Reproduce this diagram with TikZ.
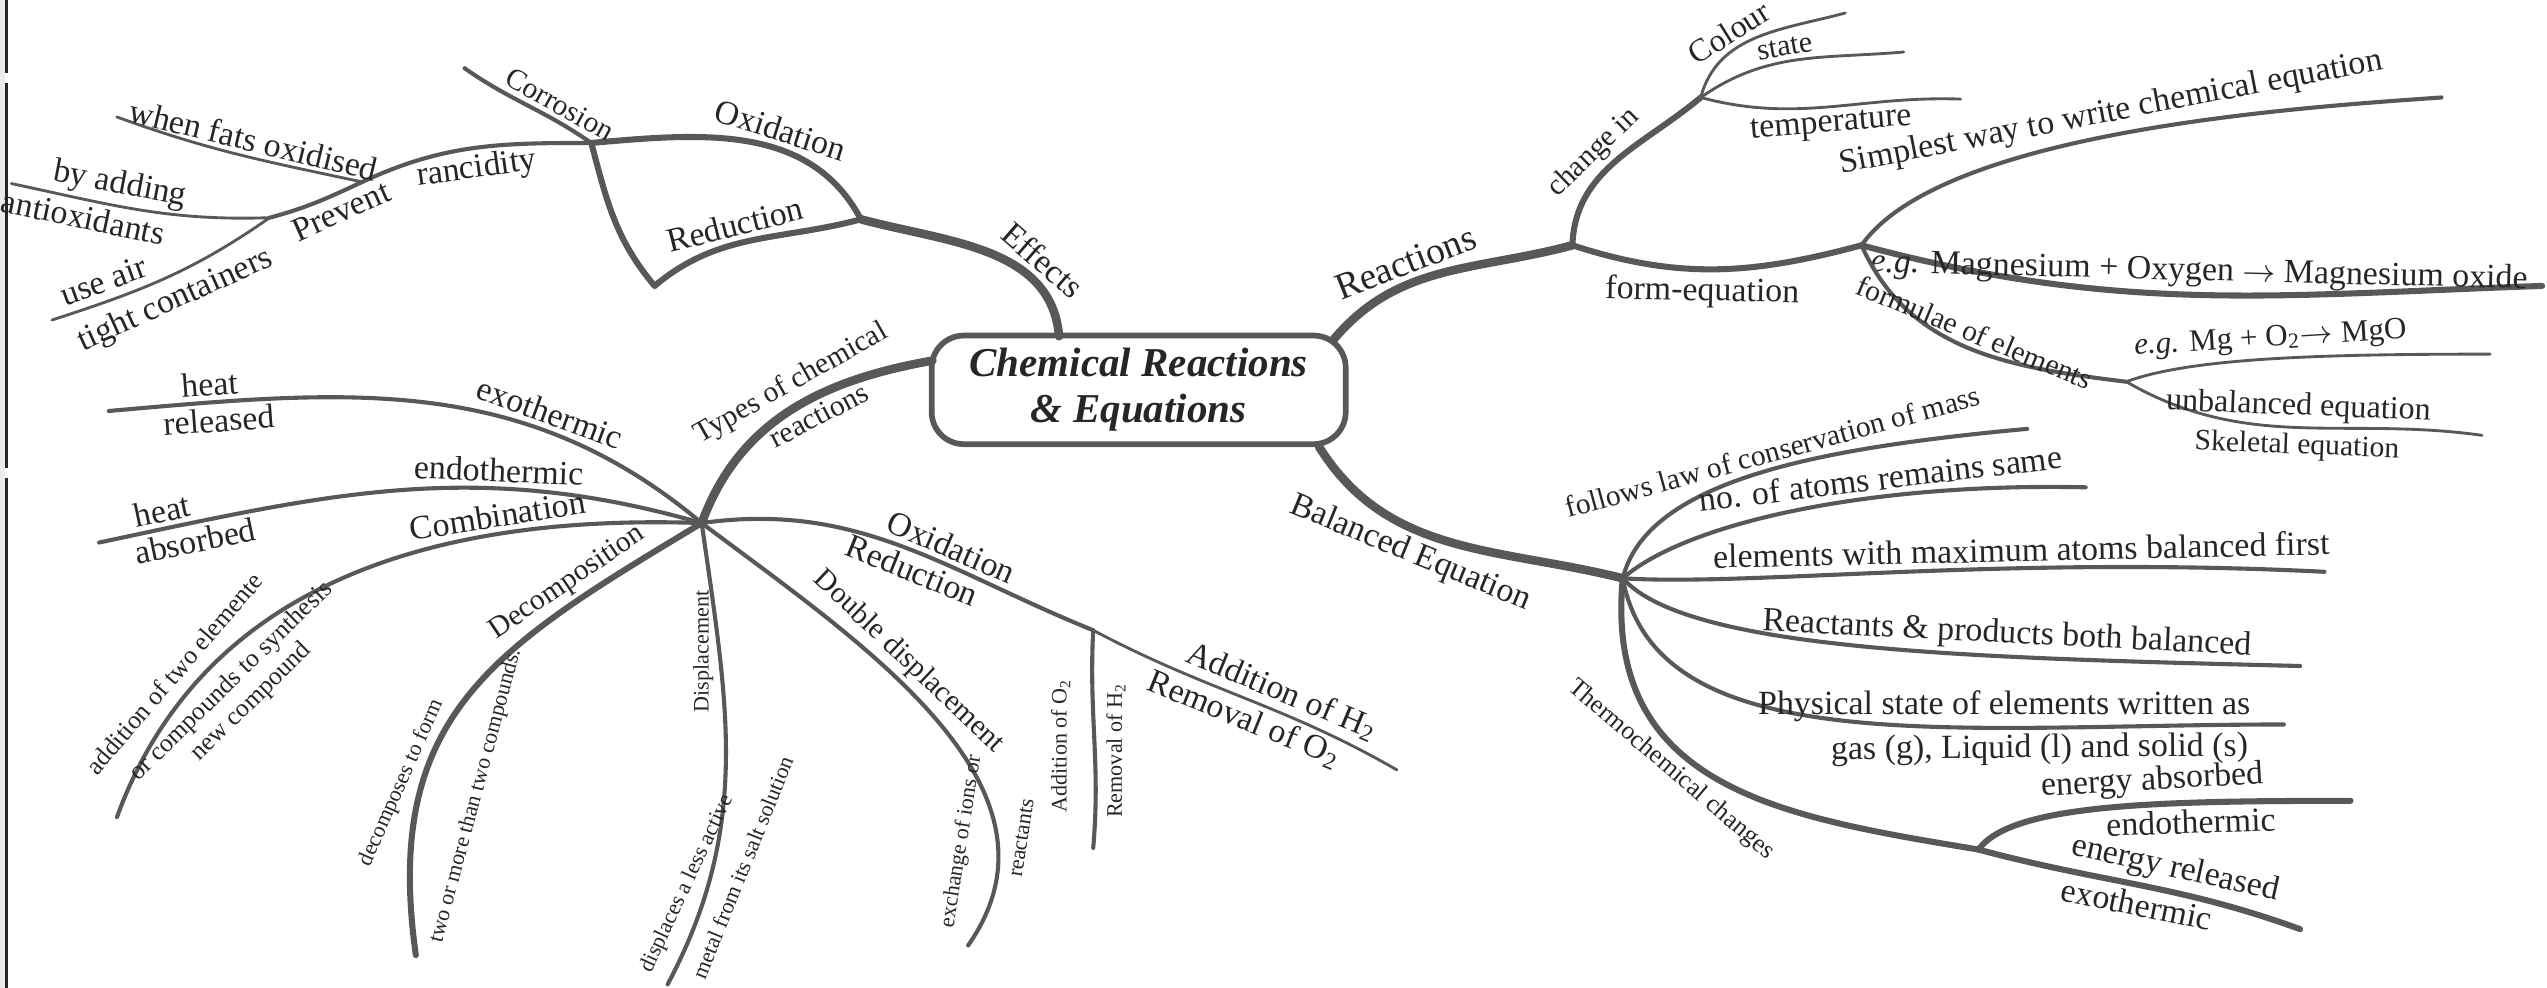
\documentclass[tikz,border=0pt]{standalone}
\usepackage{fontspec}
\setmainfont{Liberation Serif}
\usetikzlibrary{positioning}
\definecolor{branchgray}{RGB}{88,88,88}
\definecolor{inkgray}{RGB}{38,38,38}
\tikzset{
  trunk/.style={draw=branchgray, line width=2.4pt, line cap=round},
  limb/.style={draw=branchgray, line width=1.7pt, line cap=round},
  twig/.style={draw=branchgray, line width=1.15pt, line cap=round},
  leaf/.style={draw=branchgray, line width=0.8pt, line cap=round},
  lbl/.style={font=\fontsize{9.5}{10.5}\selectfont, text=inkgray, inner sep=1.2pt},
  slbl/.style={lbl, font=\fontsize{8.3}{9}\selectfont},
  tlbl/.style={lbl, font=\fontsize{7.2}{8}\selectfont},
  xlbl/.style={lbl, font=\fontsize{6.2}{7}\selectfont},
}
\begin{document}
\begin{tikzpicture}[x=0.016cm, y=0.016cm]
\useasboundingbox (0,0) rectangle (1568,-608);

% page edge
\fill[black!8] (0,0) rectangle (3,-608);
\draw[black!85, line width=1pt] (4,0) -- (4,-45) (4,-51) -- (4,-288) (4,-294) -- (4,-608);

% centre
\node[draw=branchgray, line width=1.6pt, rounded corners=9pt, minimum width=4.08cm,
      minimum height=1.07cm, align=center, text=inkgray,
      font=\fontsize{11.5}{13}\selectfont\bfseries\itshape]
      (root) at (701,-240) {Chemical Reactions\\\& Equations};

% Effects
\coordinate (e0) at (652,-207);
\coordinate (jeff) at (530,-135);
\coordinate (jcor) at (364,-88);
\coordinate (loopb) at (403,-176);
\coordinate (corend) at (286,-42);
\coordinate (jfat) at (223,-112);
\coordinate (jprev) at (166,-134);
\coordinate (fatend) at (72,-72);
\coordinate (addend) at (7,-113);
\coordinate (airend) at (32,-197);

\draw[trunk] (e0) to[out=95,in=-15] node[lbl,sloped,pos=0.3,above] (effects) {Effects} (jeff);
\draw[limb] (jeff) to[out=118,in=5] node[lbl,sloped,pos=0.4,above] (oxtop) {Oxidation} (jcor);
\draw[limb] (jeff) to[out=195,in=40] node[lbl,sloped,pos=0.56,above] (redtop) {Reduction} (loopb);
\draw[limb] (jcor) to[out=-75,in=130] (loopb);
\draw[twig] (jcor) to[out=145,in=-35] node[slbl,sloped,pos=0.3,above] (corr) {Corrosion} (corend);
\draw[twig] (jcor) to[out=180,in=25] node[lbl,sloped,pos=0.5,below] (ranc) {rancidity} (jfat);
\draw[twig] (jfat) to[out=205,in=15] node[lbl,sloped,pos=0.3,below] (prev) {Prevent} (jprev);
\draw[leaf] (jfat) to[out=168,in=-20] node[lbl,sloped,pos=0.45,above] (fats) {when fats oxidised} (fatend);
\draw[leaf] (jprev) to[out=182,in=-12] node[lbl,sloped,pos=0.6,above] (adding) {by adding}
      node[lbl,sloped,pos=0.72,below] (antiox) {antioxidants} (addend);
\draw[leaf] (jprev) to[out=215,in=18] node[lbl,sloped,pos=0.76,above=1pt] (useair) {use air}
      node[lbl,sloped,pos=0.5,below=1pt] (tight) {tight containers} (airend);

% Types of chemical reactions
\coordinate (t0) at (574,-222);
\coordinate (hub) at (432,-322);
\coordinate (exoend) at (67,-253);
\coordinate (endoend) at (61,-334);
\coordinate (combend) at (72,-503);
\coordinate (decoend) at (256,-588);
\coordinate (dispend) at (411,-606);
\coordinate (ddend) at (596,-582);
\coordinate (jox) at (673,-388);
\coordinate (oxend) at (860,-474);
\coordinate (ox2end) at (673,-522);

\draw[trunk] (t0) to[out=190,in=70] node[slbl,sloped,pos=0.45,above] (types) {Types of chemical}
      node[slbl,sloped,pos=0.42,below] (typesb) {reactions} (hub);
\draw[twig] (hub) to[out=140,in=5] node[lbl,sloped,pos=0.29,above] (exo) {exothermic}
      node[lbl,sloped,pos=0.85,above] (heatr) {heat}
      node[lbl,sloped,pos=0.84,below] (released) {released} (exoend);
\draw[twig] (hub) to[out=164,in=12] node[lbl,sloped,pos=0.33,above] (endo) {endothermic}
      node[lbl,sloped,pos=0.9,above] (heata) {heat}
      node[lbl,sloped,pos=0.86,below] (absorbed) {absorbed} (endoend);
\draw[twig] (hub) to[out=178,in=70] node[lbl,sloped,pos=0.27,above] (comb) {Combination}
      node[tlbl,sloped,pos=0.79,above=2pt] (addn) {addition of two elemente}
      node[tlbl,sloped,pos=0.74,below=2pt,align=center] (synth) {or compounds to synthesis\\new compound} (combend);
\draw[limb] (hub) to[out=211,in=98,looseness=1.2] node[slbl,sloped,pos=0.22,above] (deco) {Decomposition} (decoend);
\node[xlbl,rotate=66] (decof) at (247,-482) {decomposes to form};
\node[xlbl,rotate=75] (twomore) at (293,-490) {two or more than two compounds.};
\draw[twig] (dispend) to[out=62,in=-82] (hub);
\node[xlbl,rotate=90] (disp) at (433,-401) {Displacement};
\node[xlbl,rotate=65] (displ) at (423,-544) {displaces a less active};
\node[xlbl,rotate=68] (metal) at (457,-534) {metal from its salt solution};
\draw[twig] (hub) to[out=-37,in=55] node[slbl,sloped,pos=0.4,above] (dd) {Double displacement} (ddend);
\node[xlbl,rotate=81] (exch) at (592,-518) {exchange of ions or};
\node[xlbl,rotate=81] (reactants) at (629,-516) {reactants};
\draw[twig] (hub) to[out=8,in=158] node[lbl,sloped,pos=0.62,above] (oxlow) {Oxidation}
      node[lbl,sloped,pos=0.55,below] (redlow) {Reduction} (jox);
\draw[leaf] (jox) to[out=-28,in=150] node[lbl,sloped,pos=0.6,above] (addh) {Addition of H\textsubscript{2}}
      node[lbl,sloped,pos=0.52,below] (remo) {Removal of O\textsubscript{2}} (oxend);
\draw[twig] (jox) to[out=-93,in=85] (ox2end);
\node[xlbl,rotate=90] (addo) at (653,-459) {Addition of O\textsubscript{2}};
\node[xlbl,rotate=90] (remh) at (687,-462) {Removal of H\textsubscript{2}};

% Reactions
\coordinate (r0) at (821,-209);
\coordinate (jre) at (968,-151);
\coordinate (jch) at (1047,-60);
\coordinate (colend) at (1136,-8);
\coordinate (stateend) at (1172,-32);
\coordinate (tempend) at (1207,-61);
\coordinate (jfe) at (1146,-151);
\coordinate (simpend) at (1503,-60);
\coordinate (mgend) at (1565,-176);
\coordinate (jfo) at (1309,-235);
\coordinate (egend) at (1533,-218);
\coordinate (unbend) at (1528,-268);

\draw[trunk] (r0) to[out=50,in=195] node[lbl,sloped,pos=0.38,above,font=\fontsize{10.5}{11}\selectfont] (reactions) {Reactions} (jre);
\draw[limb] (jre) to[out=88,in=220] node[slbl,sloped,pos=0.45,above] (chg) {change in} (jch);
\draw[leaf] (jch) to[out=75,in=195] node[lbl,sloped,pos=0.38,above,font=\fontsize{9}{9}\selectfont] (colour) {Colour} (colend);
\draw[leaf] (jch) to[out=35,in=185] node[lbl,sloped,pos=0.45,above,font=\fontsize{8.5}{9}\selectfont] (state) {state} (stateend);
\draw[leaf] (jch) to[out=-15,in=178] node[lbl,sloped,pos=0.5,below] (temp) {temperature} (tempend);
\draw[limb] (jre) to[out=-18,in=195] node[lbl,sloped,pos=0.45,below] (formeq) {form-equation} (jfe);
\draw[twig] (jfe) to[out=55,in=184,looseness=0.6] node[lbl,sloped,pos=0.48,above] (simplest) {Simplest way to write chemical equation} (simpend);
\draw[limb] (jfe) to[out=-15,in=182] node[lbl,sloped,pos=0.5,above] (egword) {\textit{e.g.} Magnesium + Oxygen $\rightarrow$ Magnesium oxide} (mgend);
\draw[twig] (jfe) to[out=-66,in=173] node[slbl,sloped,pos=0.5,above] (formulae) {formulae of elements} (jfo);
\draw[leaf] (jfo) .. controls +(40,15) and +(-100,0) .. node[lbl,sloped,pos=0.5,above,font=\fontsize{8.7}{9}\selectfont] (egmg) {\textit{e.g.} Mg + O\textsubscript{2}$\rightarrow$ MgO} (egend);
\draw[leaf] (jfo) to[out=-30,in=172] node[lbl,sloped,pos=0.5,above,font=\fontsize{9}{9}\selectfont] (unbal) {unbalanced equation}
      node[slbl,sloped,pos=0.5,below] (skel) {Skeletal equation} (unbend);

% Balanced Equation
\coordinate (b0) at (812,-275);
\coordinate (jbal) at (999,-356);
\coordinate (lawend) at (1248,-264);
\coordinate (atomend) at (1284,-300);
\coordinate (maxend) at (1431,-352);
\coordinate (reactend) at (1416,-410);
\coordinate (physend) at (1406,-446);
\coordinate (jth) at (1218,-523);
\coordinate (absend) at (1447,-493);
\coordinate (relend) at (1416,-572);

\draw[trunk] (b0) to[out=-58,in=166] node[lbl,sloped,pos=0.4,below] (baleq) {Balanced Equation} (jbal);
\draw[twig] (jbal) .. controls +(15,60) and +(-130,-12) .. node[slbl,sloped,pos=0.55,above] (law) {follows law of conservation of mass} (lawend);
\draw[twig] (jbal) .. controls +(40,35) and +(-130,3) .. node[lbl,sloped,pos=0.66,above] (atoms) {no. of atoms remains same} (atomend);
\draw[twig] (jbal) .. controls +(80,-5) and +(-200,10) .. node[lbl,sloped,pos=0.66,above] (maxat) {elements with maximum atoms balanced first} (maxend);
\draw[twig] (jbal) .. controls +(40,-45) and +(-200,5) .. node[lbl,sloped,pos=0.68,above] (both) {Reactants \& products both balanced} (reactend);
\draw[twig] (jbal) .. controls +(21,-114) and +(-200,0) .. node[lbl,sloped,pos=0.7,above] (phys) {Physical state of elements written as}
      node[lbl,sloped,pos=0.74,below] (gas) {gas (g), Liquid (l) and solid (s)} (physend);
\draw[limb] (jbal) .. controls +(-12,-130) and +(-120,20) .. node[tlbl,sloped,pos=0.4,below] (thermo) {Thermochemical changes} (jth);
\draw[limb] (jth) .. controls +(20,28) and +(-120,0) .. node[lbl,sloped,pos=0.62,above] (eabs) {energy absorbed}
      node[lbl,sloped,pos=0.7,below] (endor) {endothermic} (absend);
\draw[limb] (jth) to[out=-15,in=160] node[lbl,sloped,pos=0.6,above] (erel) {energy released}
      node[lbl,sloped,pos=0.5,below] (exor) {exothermic} (relend);
\end{tikzpicture}
\end{document}
